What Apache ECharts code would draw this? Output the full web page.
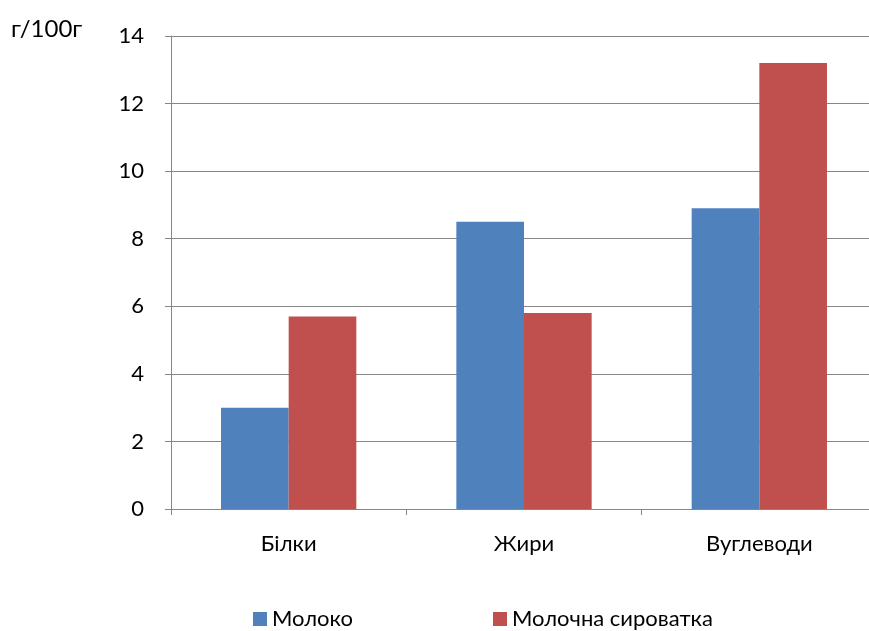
<!DOCTYPE html>
<html>
<head>
<meta charset="utf-8">
<script src="https://cdn.jsdelivr.net/npm/echarts@6/dist/echarts.min.js"></script>
<style>
  html, body { margin: 0; padding: 0; background: #ffffff; overflow: hidden; }
  /* plot area runs a little past the right edge of the window */
  #chart { width: 877px; height: 631px; }
</style>
</head>
<body>
<div id="chart"></div>
<script>
// Nutrient categories and values, g per 100 g
const categories = ['Білки', 'Жири', 'Вуглеводи'];
const milk = [3.0, 8.5, 8.9];
const whey = [5.7, 5.8, 13.2];
const seriesNames = ['Молоко', 'Молочна сироватка'];
const yTicks = { min: 0, max: 14, interval: 2 };
const unitLabel = 'г/100г';

const FONT = 'Lato';
const FS = 22;
const AXIS_COLOR = '#868686';
const COLORS = ['#4F81BD', '#C0504D'];

const chart = echarts.init(document.getElementById('chart'), null, { renderer: 'canvas' });

// one legend block per series so each swatch sits at its own spot
function legendAt(left, name) {
  return {
    top: 603,
    left: left,
    itemWidth: 14,
    itemHeight: 14,
    icon: 'rect',
    selectedMode: false,
    textStyle: { fontSize: FS, lineHeight: 22, color: '#000000', fontFamily: FONT, padding: [0, 0, 0, 0] },
    data: [name]
  };
}

chart.setOption({
  backgroundColor: '#ffffff',
  animation: false,
  color: COLORS,
  textStyle: { fontFamily: FONT },
  graphic: [{
    type: 'text',
    left: 11,
    top: 17,
    style: { text: unitLabel, font: '24px "' + FONT + '"', fill: '#000000' }
  }],
  legend: [legendAt(248, seriesNames[0]), legendAt(488, seriesNames[1])],
  grid: { left: 171, top: 36, right: 0, height: 473, containLabel: false },
  xAxis: {
    type: 'category',
    data: categories,
    axisLine: { lineStyle: { color: AXIS_COLOR, width: 1 } },
    axisTick: { show: true, alignWithLabel: false, length: 6, lineStyle: { color: AXIS_COLOR } },
    axisLabel: { color: '#000000', fontSize: FS, margin: 24, fontFamily: FONT }
  },
  yAxis: {
    type: 'value',
    min: yTicks.min,
    max: yTicks.max,
    interval: yTicks.interval,
    axisLine: { show: true, lineStyle: { color: AXIS_COLOR, width: 1 } },
    axisTick: { show: true, length: 6, lineStyle: { color: AXIS_COLOR } },
    splitLine: { show: true, lineStyle: { color: AXIS_COLOR, width: 1 } },
    axisLabel: { color: '#000000', fontSize: FS, margin: 27, fontFamily: FONT }
  },
  series: [
    {
      name: seriesNames[0],
      type: 'bar',
      data: milk,
      barGap: '0%',
      barCategoryGap: '42.5%',
      itemStyle: { color: COLORS[0] }
    },
    {
      name: seriesNames[1],
      type: 'bar',
      data: whey,
      barGap: '0%',
      barCategoryGap: '42.5%',
      itemStyle: { color: COLORS[1] }
    }
  ]
});
</script>
</body>
</html>
